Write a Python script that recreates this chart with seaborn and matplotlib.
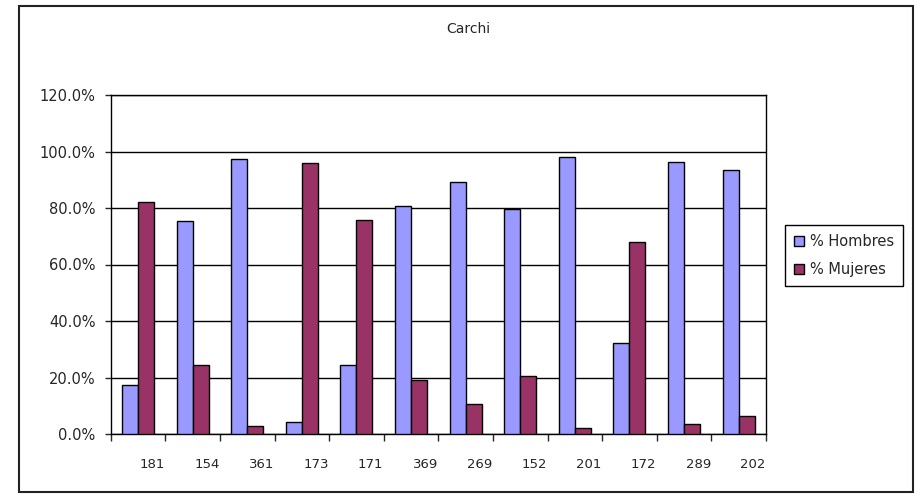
import matplotlib
matplotlib.use("Agg")
import matplotlib.pyplot as plt
from matplotlib.patches import Rectangle
import numpy as np
import pandas as pd
import seaborn as sns

# data (fractions)
codes = ["181", "154", "361", "173", "171", "369", "269", "152", "201", "172", "289", "202"]
hombres = [0.175, 0.754, 0.972, 0.041, 0.243, 0.807, 0.892, 0.796, 0.982, 0.323, 0.962, 0.935]
mujeres = [0.822, 0.243, 0.029, 0.961, 0.758, 0.190, 0.106, 0.206, 0.020, 0.679, 0.037, 0.063]
series = ["% Hombres", "% Mujeres"]
colors = ["#9999FF", "#993366"]

df = pd.DataFrame({
    "code": codes * 2,
    "serie": [series[0]] * len(codes) + [series[1]] * len(codes),
    "valor": hombres + mujeres,
})

sns.set_style("white")
plt.rcParams["font.family"] = ["DejaVu Sans"]

fig = plt.figure(figsize=(9.17, 4.94), dpi=100)
ax = fig.add_axes([110.7 / 917, 60 / 494, (766 - 110.7) / 917, (434 - 95) / 494])

sns.barplot(
    data=df, x="code", y="valor", hue="serie", order=codes, hue_order=series,
    palette=colors, width=0.586, edgecolor="black", linewidth=1.0,
    saturation=1, legend=False, ax=ax, zorder=3,
)

ax.set_ylim(0, 1.2)
ax.set_xlim(-0.5, len(codes) - 0.5)
yt = np.arange(0, 1.21, 0.2)
ax.set_yticks(yt)
ax.set_yticklabels([f"{v * 100:.1f}%" for v in yt], fontsize=10.5)
ax.yaxis.grid(True, color="black", linewidth=1.0, zorder=0)
ax.set_axisbelow(True)
ax.tick_params(axis="y", direction="out", length=4, width=1, pad=7, left=True)

# boundary tick marks, labels shifted right like the original
ax.set_xticks(np.arange(-0.5, len(codes)), minor=False)
ax.set_xticklabels([""] * (len(codes) + 1))
ax.set_xticks(np.arange(len(codes)) + 0.26, minor=True)
ax.set_xticklabels(codes, minor=True, fontsize=9.5)
ax.tick_params(axis="x", which="major", direction="out", length=5, width=1, bottom=True)
ax.tick_params(axis="x", which="minor", length=0, pad=17)

ax.set_xlabel("")
ax.set_ylabel("")
for s in ax.spines.values():
    s.set_color("black")
    s.set_linewidth(1.0)

fig.text(468 / 917, 1 - 29 / 494, "Carchi", ha="center", va="center", fontsize=10)

handles = [Rectangle((0, 0), 1, 1, facecolor=c, edgecolor="black", linewidth=1) for c in colors]
leg = fig.legend(
    handles, series, loc="upper left", bbox_to_anchor=(785 / 917, 1 - 225 / 494),
    fontsize=10.5, frameon=True, fancybox=False, framealpha=1, edgecolor="black",
    handlelength=0.7, handleheight=0.7, handletextpad=0.4, labelspacing=0.9,
    borderpad=0.6, borderaxespad=0,
)
leg.get_frame().set_linewidth(1.0)

fig.patches.append(Rectangle(
    (18.5 / 917, 1 - 491.7 / 494), (913 - 18.5) / 917, (491.7 - 6) / 494,
    transform=fig.transFigure, fill=False, edgecolor="#222222", linewidth=1.5,
))

fig.savefig("out.png", dpi=100)
